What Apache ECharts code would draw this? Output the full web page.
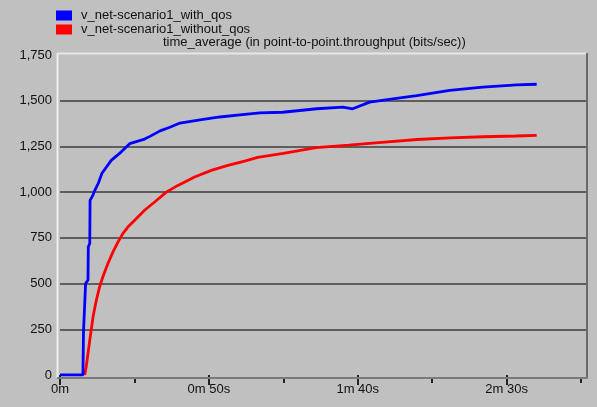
<!DOCTYPE html>
<html>
<head>
<meta charset="utf-8">
<script src="https://cdn.jsdelivr.net/npm/echarts@6/dist/echarts.min.js"></script>
<style>
html,body{margin:0;padding:0;background:#c0c0c0;}
#c{width:597px;height:407px;}
</style>
</head>
<body>
<div id="c"></div>
<script>
const seriesNames = ['v_net-scenario1_with_qos', 'v_net-scenario1_without_qos'];
const chartTitle = 'time_average (in point-to-point.throughput (bits/sec))';
const yTicks = [0, 250, 500, 750, 1000, 1250, 1500, 1750];
const xMajorTicks = [0, 50, 100, 150];
const xMinorTicks = [25, 75, 125, 175];

// [seconds, bits/sec]
const withQos = [
  [0,0],[7.7,0],[7.9,240],[8.5,250],[8.6,500],[9.4,520],[9.5,700],[10.0,720],[10.1,955],
  [11.1,985],[11.4,1000],[12.9,1050],[14.1,1103],[17.2,1174],[20.5,1219],[23.4,1265],
  [28.4,1290],[30.2,1305],[33.6,1335],[36.9,1355],
  [40.3,1378],[47.0,1395],[53.7,1411],[60.4,1422],[67.1,1433],[74.8,1437],[86.2,1456],
  [95.0,1465],[98.3,1456],[104.0,1492],[111.8,1510],[119.8,1528],[130.9,1556],
  [142.0,1574],[153.4,1587],[160.1,1590]
];
const withoutQos = [
  [8.3,0],[8.8,45],[10.0,191],[11.1,318],[12.2,409],[13.3,482],[14.4,537],[16.1,610],
  [17.8,673],[19.5,728],[21.1,773],[22.8,809],[25.6,855],[28.4,901],[31.8,946],
  [35.7,1000],[39.6,1037],[45.2,1083],[50.8,1119],[56.4,1146],[62.0,1170],[66.4,1190],
  [75.0,1212],[86.0,1243],[97.0,1257],[108.0,1272],
  [120.0,1288],[131.0,1297],[142.0,1303],[153.0,1307],[160.1,1310]
];

function fmtTime(v){
  const m = Math.floor(v/60), s = Math.round(v - m*60);
  return s ? (m + 'm ' + s + 's') : (m + 'm');
}
function fmtNum(v){ return String(v).replace(/\B(?=(\d{3})+(?!\d))/g, ','); }

const chart = echarts.init(document.getElementById('c'));
const splitColors = yTicks.map((v,i) => (i === 0 || i === yTicks.length-1) ? 'rgba(0,0,0,0)' : '#3c3c3c');
const FONT = 'Liberation Sans, Arial, sans-serif';

chart.setOption({
  backgroundColor: '#c0c0c0',
  animation: false,
  title: {
    text: chartTitle, left: 158, top: 31,
    textStyle: {fontSize: 13, fontWeight: 'normal', color: '#111', fontFamily: FONT}
  },
  legend: {
    orient: 'vertical', left: 51, top: 4, itemGap: 1,
    itemWidth: 16, itemHeight: 10, icon: 'rect',
    textStyle: {fontSize: 13, color: '#111', fontFamily: FONT, padding: [0,0,0,4]},
    data: seriesNames.map(n => ({name: n}))
  },
  grid: {left: 60, right: 10, top: 55, bottom: 32},
  xAxis: [
    {
      type: 'value', min: 0, max: 177, interval: 50, position: 'bottom', offset: 3,
      axisLine: {show: false},
      axisTick: {show: true, length: 10, customValues: xMajorTicks, lineStyle: {color: '#222', width: 2}},
      axisLabel: {customValues: xMajorTicks, formatter: v => fmtTime(v), fontSize: 13, color: '#111', fontFamily: FONT, margin: 5},
      splitLine: {show: false}
    },
    {
      type: 'value', min: 0, max: 177, interval: 25, position: 'bottom', offset: 3,
      axisLine: {show: false},
      axisTick: {show: true, length: 5, customValues: xMinorTicks, lineStyle: {color: '#222', width: 2}},
      axisLabel: {show: false},
      splitLine: {show: false}
    }
  ],
  yAxis: {
    type: 'value', min: 0, max: 1750, interval: 250,
    axisLine: {show: false}, axisTick: {show: false},
    axisLabel: {formatter: v => fmtNum(v), fontSize: 13, color: '#111', fontFamily: FONT, margin: 8},
    splitLine: {show: true, lineStyle: {color: splitColors, width: 1.5}}
  },
  graphic: [
    {type: 'line', shape: {x1: 57, y1: 53.5, x2: 587, y2: 53.5}, style: {stroke: '#e6e6e6', lineWidth: 2}, z: 1},
    {type: 'line', shape: {x1: 57.5, y1: 53, x2: 57.5, y2: 378}, style: {stroke: '#eeeeee', lineWidth: 2}, z: 1},
    {type: 'line', shape: {x1: 587, y1: 53, x2: 587, y2: 379}, style: {stroke: '#6a6a6a', lineWidth: 2}, z: 1},
    {type: 'line', shape: {x1: 57, y1: 378, x2: 588, y2: 378}, style: {stroke: '#7a7a7a', lineWidth: 2}, z: 1}
  ],
  series: [
    {name: seriesNames[0], type: 'line', data: withQos, showSymbol: false, symbol: 'none',
     itemStyle: {color: '#0000ff'}, lineStyle: {color: '#0000ff', width: 2.8}, z: 5},
    {name: seriesNames[1], type: 'line', data: withoutQos, showSymbol: false, symbol: 'none',
     itemStyle: {color: '#ff0000'}, lineStyle: {color: '#ff0000', width: 2.8}, z: 4}
  ]
});
</script>
</body>
</html>
